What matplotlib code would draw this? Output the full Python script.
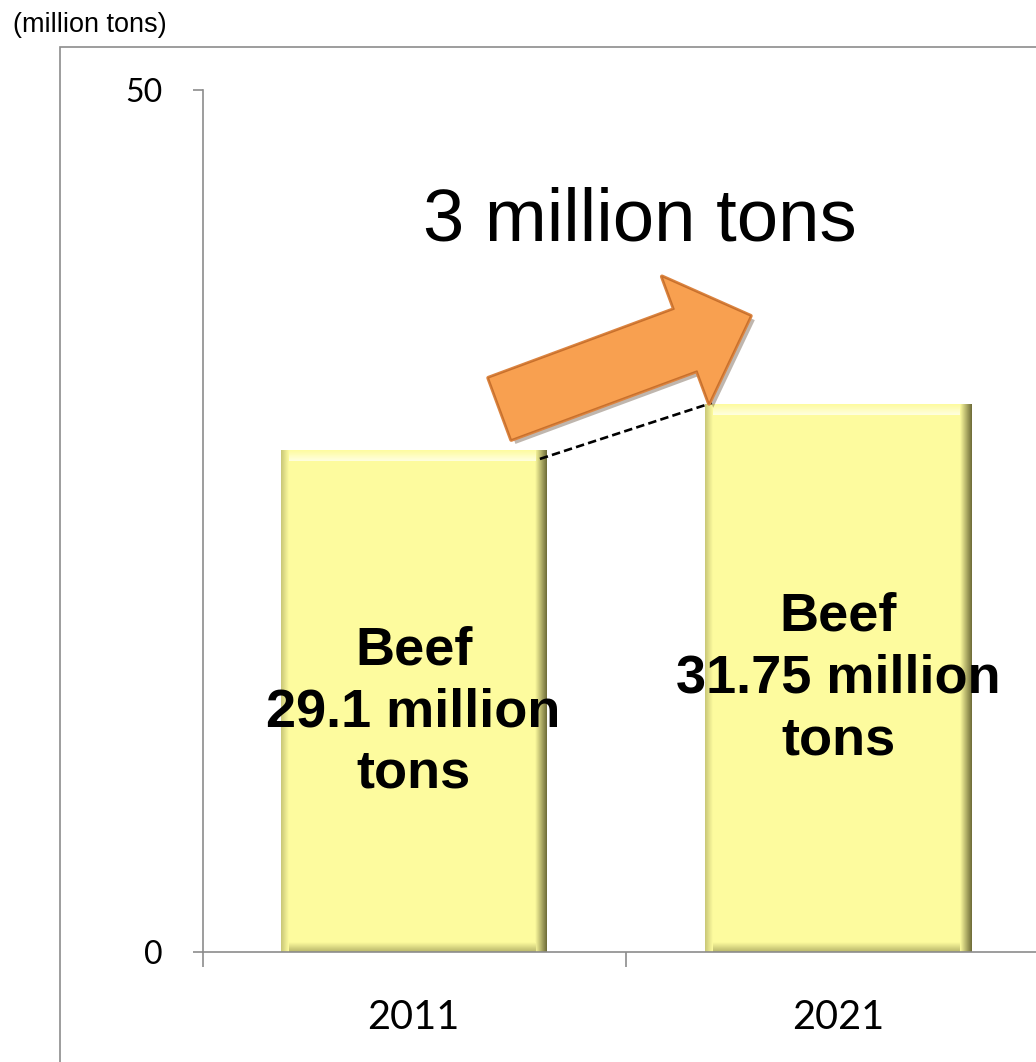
import numpy as np
import matplotlib
matplotlib.use("Agg")
import matplotlib.pyplot as plt
from matplotlib.patches import Rectangle, FancyArrowPatch
from matplotlib import patheffects as pe
from matplotlib.colors import to_rgba

# данные
years = ["2011", "2021"]
beef = [29.1, 31.75]
bar_labels = ["Beef\n29.1 million\ntons", "Beef\n31.75 million\ntons"]
change_label = "3 million tons"
unit_label = "(million tons)"
y_ticks = [0, 50]

fill = "#FDFB9E"
dark = "#6E6C38"
grey = "#8C8C8C"

fig = plt.figure(figsize=(10.36, 10.62), dpi=100)
ax = fig.add_axes([203 / 1036, 110 / 1062, 1 - 203 / 1036, 862 / 1062])

x = np.arange(len(years))
w = 0.625
bars = ax.bar(x, beef, width=w, color=fill, zorder=2)


def grad(ax, extent, c0, c1, horizontal=True):
    a = np.array(to_rgba(c0))
    b = np.array(to_rgba(c1))
    t = np.linspace(0, 1, 32)
    g = a[None, :] * (1 - t[:, None]) + b[None, :] * t[:, None]
    img = g[None, :, :] if horizontal else g[::-1][:, None, :]
    ax.imshow(img, extent=extent, aspect="auto", interpolation="bilinear", zorder=3)


# псевдо-объём у столбцов
for b in bars:
    x0, h, bw = b.get_x(), b.get_height(), b.get_width()
    grad(ax, [x0 + bw - 0.026, x0 + bw, 0, h], fill, dark)
    grad(ax, [x0, x0 + 0.018, 0, h], "#C9C777", fill)
    grad(ax, [x0 + 0.018, x0 + bw - 0.026, h - 0.6, h], "#FFFFE0", fill, horizontal=False)
    grad(ax, [x0 + 0.018, x0 + bw - 0.026, 0, 0.55], "#B8B66A", fill, horizontal=False)

for xi, v, lab in zip(x, beef, bar_labels):
    ax.text(xi, v * 0.478 if xi == 0 else v * 0.5, lab, ha="center", va="center",
            fontsize=39, fontweight="bold", family="Liberation Sans",
            linespacing=1.3, zorder=5)

# пунктир между вершинами
ax.plot([x[0] + w / 2 - 0.015, x[1] - w / 2 + 0.015], [beef[0] - 0.5, beef[1] + 0.1],
        color="black", lw=1.9, ls=(0, (3.2, 1.6)), zorder=4)

# стрелка
arr = FancyArrowPatch((0.197, beef[0] + 2.35), (0.80, beef[1] + 5.2),
                      arrowstyle="simple,head_length=1.0,head_width=1.95,tail_width=0.95",
                      mutation_scale=50, facecolor="#F8A050", edgecolor="#C8702C",
                      lw=1.0, zorder=6,
                      path_effects=[pe.SimplePatchShadow(offset=(3, -3), alpha=0.35),
                                    pe.Stroke(linewidth=3, foreground="#DB8440"), pe.Normal()])
ax.add_patch(arr)

ax.text(0.534, 42.4, change_label, ha="center", va="center", fontsize=53.5,
        family="Liberation Sans", zorder=6)

xmin, xmax = -0.496, 1.466
ax.set_yticks(y_ticks)
ax.set_yticklabels([str(t) for t in y_ticks], family="Lato", fontsize=23)
ax.set_xticks(x)
ax.set_xticklabels(years, family="Lato", fontsize=28.5)
ax.set_xticks([xmin, 0.5, 1.5], minor=True)
ax.set_xlim(xmin, xmax)
ax.set_ylim(0, 50)
ax.tick_params(axis="x", which="major", length=0, pad=34)
ax.tick_params(axis="x", which="minor", length=11, width=1.2, color=grey)
ax.tick_params(axis="y", length=7, width=1.2, color=grey, pad=22)
for s in ["top", "right"]:
    ax.spines[s].set_visible(False)
for s in ["left", "bottom"]:
    ax.spines[s].set_color(grey)
    ax.spines[s].set_linewidth(1.2)
ax.spines["bottom"].set_zorder(4)

fig.add_artist(Rectangle((60 / 1036, -0.1), 1.2, 1 - 47 / 1062 + 0.1, transform=fig.transFigure,
                         fill=False, edgecolor=grey, lw=1.2))
fig.text(13 / 1036, 1 - 25 / 1062, unit_label, ha="left", va="center", fontsize=19.5,
         family="Liberation Sans")

fig.savefig("out.png", dpi=100)
